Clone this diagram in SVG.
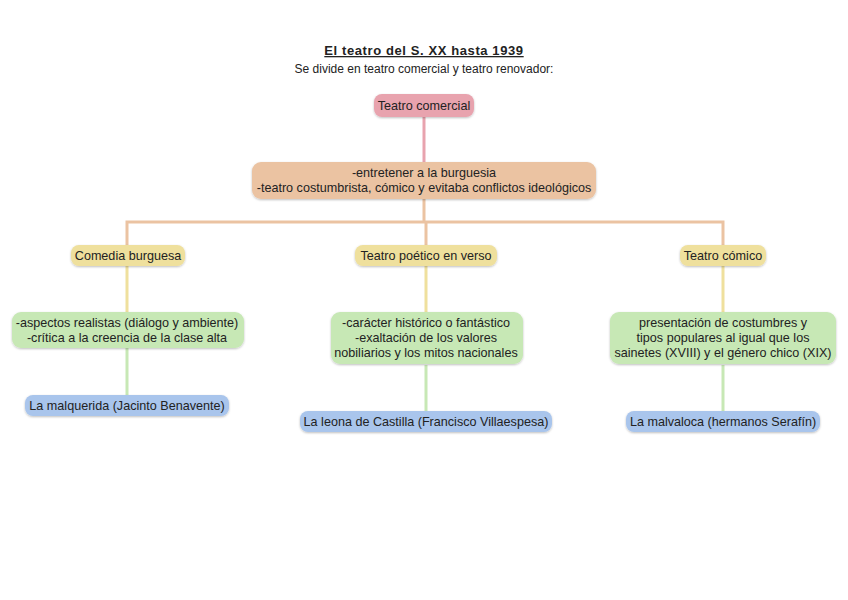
<svg xmlns="http://www.w3.org/2000/svg" width="848" height="600" viewBox="0 0 848 600">
<style>
text{font-family:"Liberation Sans",Arial,sans-serif;font-size:12.6px;fill:#222;text-anchor:middle}
.title{font-size:13px;font-weight:bold;text-decoration:underline;letter-spacing:0.6px}
.sub{font-size:12px}
.box{stroke:none;filter:url(#sh)}
.pink{fill:#e8a3ae}.orange{fill:#ebc3a2}.yellow{fill:#efe09d}.green{fill:#c7e8b5}.blue{fill:#a9c5ec}
.c{fill:none;stroke-width:3}
</style>
<defs>
<filter id="sh" x="-10%" y="-20%" width="120%" height="150%">
<feDropShadow dx="0" dy="1" stdDeviation="0.8" flood-color="#000" flood-opacity="0.25"/>
</filter>
</defs>
<rect width="848" height="600" fill="#fff"/>
<text class="title" x="424" y="55">El teatro del S. XX hasta 1939</text>
<text class="sub" x="424" y="73">Se divide en teatro comercial y teatro renovador:</text>
<g id="connectors">
<path class="c" stroke="#e8a3ae" d="M424 117V162"/>
<path class="c" stroke="#ebc3a2" d="M424 199V222M127 245V222H723V245M426 222V245"/>
<path class="c" stroke="#efe09d" d="M127 266V312M426 266V312M723 266V312"/>
<path class="c" stroke="#c7e8b5" d="M127 348V395M426 365V411M723 365V411"/>
</g>
<g id="n1"><rect class="box pink" x="374" y="94" width="100" height="23" rx="8"/><text x="424" y="110">Teatro comercial</text></g>
<g id="n2"><rect class="box orange" x="252" y="162" width="344" height="37" rx="9"/><text x="424" y="177">-entretener a la burguesia</text><text x="424" y="192">-teatro costumbrista, cómico y evitaba conflictos ideológicos</text></g>
<g id="n3"><rect class="box yellow" x="71" y="245" width="114" height="21" rx="8"/><text x="128" y="260">Comedia burguesa</text></g>
<g id="n4"><rect class="box yellow" x="355" y="245" width="142" height="21" rx="8"/><text x="426" y="260">Teatro poético en verso</text></g>
<g id="n5"><rect class="box yellow" x="680" y="245" width="86" height="21" rx="8"/><text x="723" y="260">Teatro cómico</text></g>
<g id="n6"><rect class="box green" x="12" y="312" width="232" height="36" rx="9"/><text x="127" y="327">-aspectos realistas (diálogo y ambiente)</text><text x="127" y="342">-crítica a la creencia de la clase alta</text></g>
<g id="n7"><rect class="box green" x="331" y="312" width="192" height="52" rx="9"/><text x="426" y="327">-carácter histórico o fantástico</text><text x="426" y="342">-exaltación de los valores</text><text x="426" y="357">nobiliarios y los mitos nacionales</text></g>
<g id="n8"><rect class="box green" x="610" y="312" width="226" height="52" rx="9"/><text x="723" y="327">presentación de costumbres y</text><text x="723" y="342">tipos populares al igual que los</text><text x="723" y="357">sainetes (XVIII) y el género chico (XIX)</text></g>
<g id="n9"><rect class="box blue" x="25" y="395" width="204" height="21" rx="8"/><text x="127" y="410">La malquerida (Jacinto Benavente)</text></g>
<g id="n10"><rect class="box blue" x="300" y="411" width="252" height="21" rx="8"/><text x="426" y="426">La leona de Castilla (Francisco Villaespesa)</text></g>
<g id="n11"><rect class="box blue" x="626" y="411" width="194" height="21" rx="8"/><text x="723" y="426">La malvaloca (hermanos Serafín)</text></g>
</svg>
